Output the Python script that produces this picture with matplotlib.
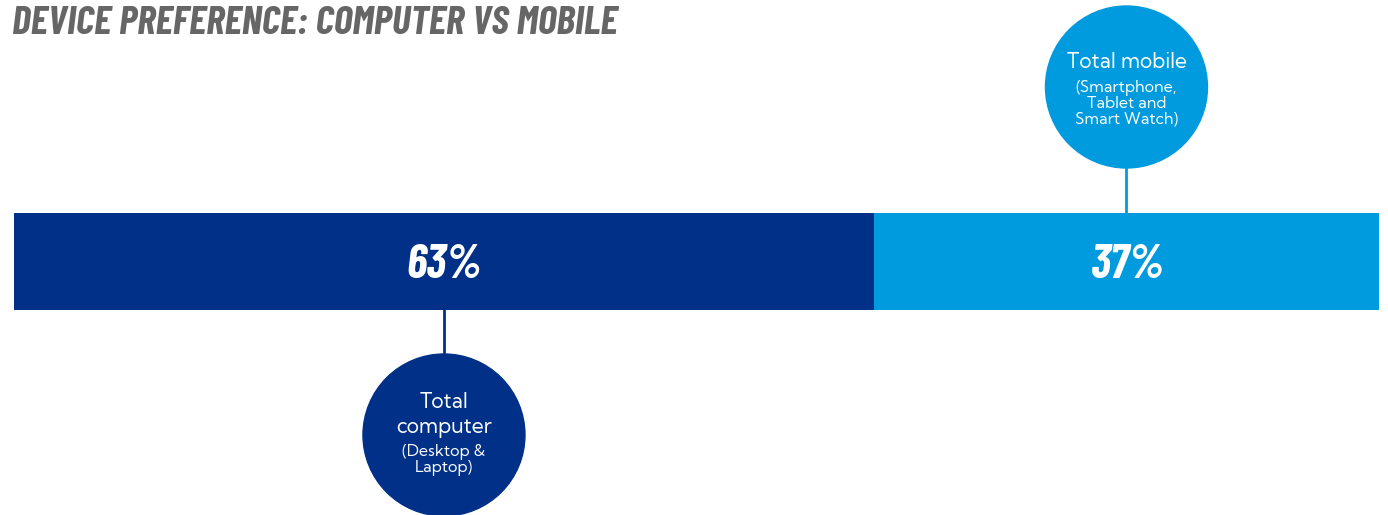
import matplotlib.pyplot as plt
from matplotlib.patches import Ellipse

# data
segments = ["Total computer", "Total mobile"]
shares = [63, 37]
share_labels = ["63%", "37%"]
notes = ["(Desktop &\nLaptop)", "(Smartphone,\nTablet and\nSmart Watch)"]
colors = ["#003087", "#009bde"]

W, H = 1388, 515
fig = plt.figure(figsize=(W / 100, H / 100), dpi=100)
# x axis in percent (0..100 spans the bar), y axis in pixels from the top
ax = fig.add_axes([14 / W, 0, 1365 / W, 1])
ax.set_xlim(0, 100)
ax.set_ylim(H, 0)
ax.axis("off")

cond = ["Barlow Condensed", "DejaVu Sans"]
body = ["Kumbh Sans", "Lato", "DejaVu Sans"]

bar_y, bar_h = 261.5, 97
r_px = 81
rx = r_px * 100 / 1365  # circle radius in percent units

left = 0
for i, (name, val, lab, note, c) in enumerate(zip(segments, shares, share_labels, notes, colors)):
    ax.barh(bar_y, val, left=left, height=bar_h, color=c, zorder=2)
    mid = left + val / 2
    ax.text(mid, bar_y + 4, lab, color="white", ha="center", va="center",
            fontsize=34, fontweight="bold", fontstyle="italic", family=cond, zorder=3)
    if i == 0:
        cy, y0, y1 = 435, bar_y + bar_h / 2, 435 - r_px
        ax.text(mid, 415, "Total\ncomputer", color="white", ha="center", va="center",
                fontsize=15, family=body, linespacing=1.25, zorder=4)
        ax.text(mid, 460, note, color="white", ha="center", va="center",
                fontsize=11.5, family=body, linespacing=1.0, zorder=4)
    else:
        cy, y0, y1 = 87, bar_y - bar_h / 2, 87 + r_px
        ax.text(mid, 62, name, color="white", ha="center", va="center",
                fontsize=15, family=body, zorder=4)
        ax.text(mid, 104, note, color="white", ha="center", va="center",
                fontsize=11.5, family=body, linespacing=1.0, zorder=4)
    ax.plot([mid, mid], [y0, y1], color=c, lw=2, zorder=1)
    ax.add_patch(Ellipse((mid, cy), 2 * rx, 2 * r_px, color=c, zorder=3))
    left += val

fig.text(12 / W, 1 - 24 / H, "DEVICE PREFERENCE: COMPUTER VS MOBILE", color="#666666",
         ha="left", va="center", fontsize=29, fontweight="bold", fontstyle="italic", family=cond)

fig.savefig("out.png", dpi=100)
